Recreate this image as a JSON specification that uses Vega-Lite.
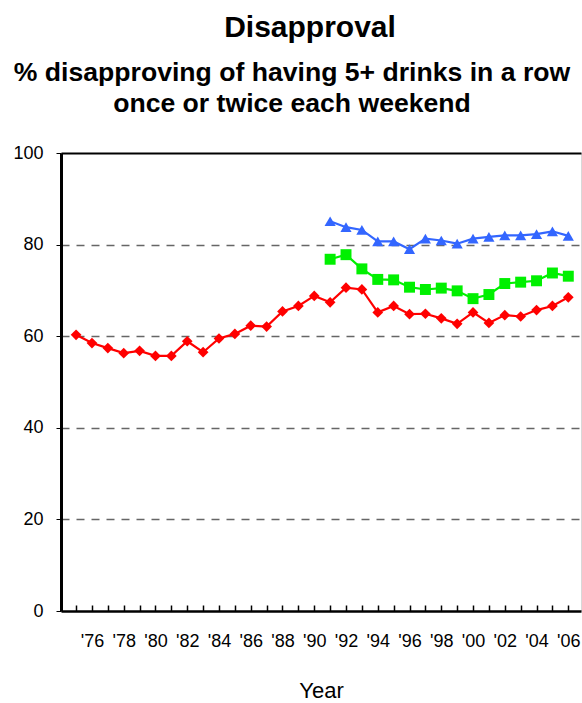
{
  "$schema": "https://vega.github.io/schema/vega-lite/v6.json",
  "width": 520,
  "height": 458,
  "autosize": {"type": "none"},
  "padding": {"left": 61, "top": 153, "right": 1, "bottom": 92},
  "background": "white",
  "config": {
    "font": "Liberation Sans",
    "view": {"stroke": "#d8d8d8", "strokeWidth": 1}
  },
  "title": {
    "text": "Disapproval",
    "font": "Liberation Sans",
    "fontSize": 30,
    "fontWeight": "bold",
    "color": "#000",
    "anchor": "middle",
    "frame": "group",
    "baseline": "alphabetic",
    "dx": -11,
    "offset": -8
  },
  "resolve": {"axis": {"x": "independent"}},
  "data": {
    "values": [
      {"year": 1975, "series": "A", "pct": 60.3},
      {"year": 1976, "series": "A", "pct": 58.5},
      {"year": 1977, "series": "A", "pct": 57.4},
      {"year": 1978, "series": "A", "pct": 56.3},
      {"year": 1979, "series": "A", "pct": 56.8},
      {"year": 1980, "series": "A", "pct": 55.7},
      {"year": 1981, "series": "A", "pct": 55.7},
      {"year": 1982, "series": "A", "pct": 58.9},
      {"year": 1983, "series": "A", "pct": 56.5},
      {"year": 1984, "series": "A", "pct": 59.5},
      {"year": 1985, "series": "A", "pct": 60.5},
      {"year": 1986, "series": "A", "pct": 62.3},
      {"year": 1987, "series": "A", "pct": 62.1},
      {"year": 1988, "series": "A", "pct": 65.4},
      {"year": 1989, "series": "A", "pct": 66.6},
      {"year": 1990, "series": "A", "pct": 68.8},
      {"year": 1991, "series": "A", "pct": 67.4},
      {"year": 1992, "series": "A", "pct": 70.6},
      {"year": 1993, "series": "A", "pct": 70.2},
      {"year": 1994, "series": "A", "pct": 65.2},
      {"year": 1995, "series": "A", "pct": 66.6},
      {"year": 1996, "series": "A", "pct": 64.8},
      {"year": 1997, "series": "A", "pct": 64.9},
      {"year": 1998, "series": "A", "pct": 63.9},
      {"year": 1999, "series": "A", "pct": 62.7},
      {"year": 2000, "series": "A", "pct": 65.2},
      {"year": 2001, "series": "A", "pct": 62.9},
      {"year": 2002, "series": "A", "pct": 64.6},
      {"year": 2003, "series": "A", "pct": 64.3},
      {"year": 2004, "series": "A", "pct": 65.7},
      {"year": 2005, "series": "A", "pct": 66.6},
      {"year": 2006, "series": "A", "pct": 68.5},
      {"year": 1991, "series": "B", "pct": 76.8},
      {"year": 1992, "series": "B", "pct": 77.8},
      {"year": 1993, "series": "B", "pct": 74.7},
      {"year": 1994, "series": "B", "pct": 72.4},
      {"year": 1995, "series": "B", "pct": 72.3},
      {"year": 1996, "series": "B", "pct": 70.7},
      {"year": 1997, "series": "B", "pct": 70.2},
      {"year": 1998, "series": "B", "pct": 70.5},
      {"year": 1999, "series": "B", "pct": 69.9},
      {"year": 2000, "series": "B", "pct": 68.2},
      {"year": 2001, "series": "B", "pct": 69.1},
      {"year": 2002, "series": "B", "pct": 71.5},
      {"year": 2003, "series": "B", "pct": 71.8},
      {"year": 2004, "series": "B", "pct": 72.1},
      {"year": 2005, "series": "B", "pct": 73.8},
      {"year": 2006, "series": "B", "pct": 73.1},
      {"year": 1991, "series": "C", "pct": 85.1},
      {"year": 1992, "series": "C", "pct": 83.8},
      {"year": 1993, "series": "C", "pct": 83.2},
      {"year": 1994, "series": "C", "pct": 80.7},
      {"year": 1995, "series": "C", "pct": 80.7},
      {"year": 1996, "series": "C", "pct": 79.0},
      {"year": 1997, "series": "C", "pct": 81.3},
      {"year": 1998, "series": "C", "pct": 80.9},
      {"year": 1999, "series": "C", "pct": 80.2},
      {"year": 2000, "series": "C", "pct": 81.3},
      {"year": 2001, "series": "C", "pct": 81.7},
      {"year": 2002, "series": "C", "pct": 82.0},
      {"year": 2003, "series": "C", "pct": 82.0},
      {"year": 2004, "series": "C", "pct": 82.3},
      {"year": 2005, "series": "C", "pct": 82.9},
      {"year": 2006, "series": "C", "pct": 81.9}
    ]
  },
  "encoding": {
    "y": {
      "field": "pct",
      "type": "quantitative",
      "scale": {"domain": [0, 100], "nice": false},
      "axis": {
        "title": null,
        "values": [0, 20, 40, 60, 80, 100],
        "labelFont": "Liberation Sans",
        "labelFontSize": 18,
        "labelColor": "#000",
        "labelPadding": 13,
        "tickSize": 5,
        "tickWidth": 1,
        "tickColor": "#000",
        "domainColor": "#000",
        "domainWidth": 3,
        "grid": true,
        "gridColor": "#666666",
        "gridWidth": 1.3,
        "gridDash": [8, 7],
        "gridOpacity": {"condition": {"test": "datum.value == 0 || datum.value == 100", "value": 0}, "value": 1}
      }
    },
    "color": {
      "field": "series",
      "type": "nominal",
      "scale": {"domain": ["A", "B", "C"], "range": ["#ff0000", "#00f000", "#3366ff"]},
      "legend": null
    }
  },
  "layer": [
    {
      "mark": {"type": "line", "strokeWidth": 2.2},
      "encoding": {
        "x": {
          "field": "year",
          "type": "quantitative",
          "scale": {"domain": [1974.05, 2006.8], "nice": false, "zero": false},
          "axis": {
            "orient": "bottom",
            "title": "Year",
            "titleFont": "Liberation Sans",
            "titleFontSize": 22,
            "titleFontWeight": "normal",
            "titleColor": "#000",
            "titlePadding": 30,
            "values": [1975, 1976, 1977, 1978, 1979, 1980, 1981, 1982, 1983, 1984, 1985, 1986, 1987, 1988, 1989, 1990, 1991, 1992, 1993, 1994, 1995, 1996, 1997, 1998, 1999, 2000, 2001, 2002, 2003, 2004, 2005, 2006],
            "labelExpr": "datum.value % 2 == 0 ? \"'\" + substring(toString(datum.value), 2, 4) : ''",
            "labelFont": "Liberation Sans",
            "labelFontSize": 18,
            "labelColor": "#000",
            "labelPadding": 27,
            "labelOverlap": false,
            "labelFlush": false,
            "tickSize": -6,
            "tickWidth": 1.5,
            "tickColor": "#000",
            "domainColor": "#000",
            "domainWidth": 2.5,
            "grid": false
          }
        },
        "detail": {"field": "series"}
      }
    },
    {
      "mark": {"type": "point", "filled": true, "opacity": 1},
      "encoding": {
        "x": {
          "field": "year",
          "type": "quantitative",
          "axis": {
            "orient": "top",
            "title": ["% disapproving of having 5+ drinks in a row", "once or twice each weekend"],
            "titleFont": "Liberation Sans",
            "titleFontSize": 26.6,
            "titleFontWeight": "bold",
            "titleColor": "#000",
            "titleLineHeight": 31,
            "titleAnchor": "middle",
            "titleAlign": "center",
            "titleBaseline": "alphabetic",
            "titleX": 230.5,
            "titleY": -73,
            "labels": false,
            "ticks": false,
            "grid": false,
            "domainColor": "#000",
            "domainWidth": 2
          }
        },
        "shape": {
          "field": "series",
          "type": "nominal",
          "scale": {"domain": ["A", "B", "C"], "range": ["diamond", "square", "triangle-up"]},
          "legend": null
        },
        "size": {
          "field": "series",
          "type": "nominal",
          "scale": {"domain": ["A", "B", "C"], "range": [115, 125, 135]},
          "legend": null
        }
      }
    }
  ]
}
